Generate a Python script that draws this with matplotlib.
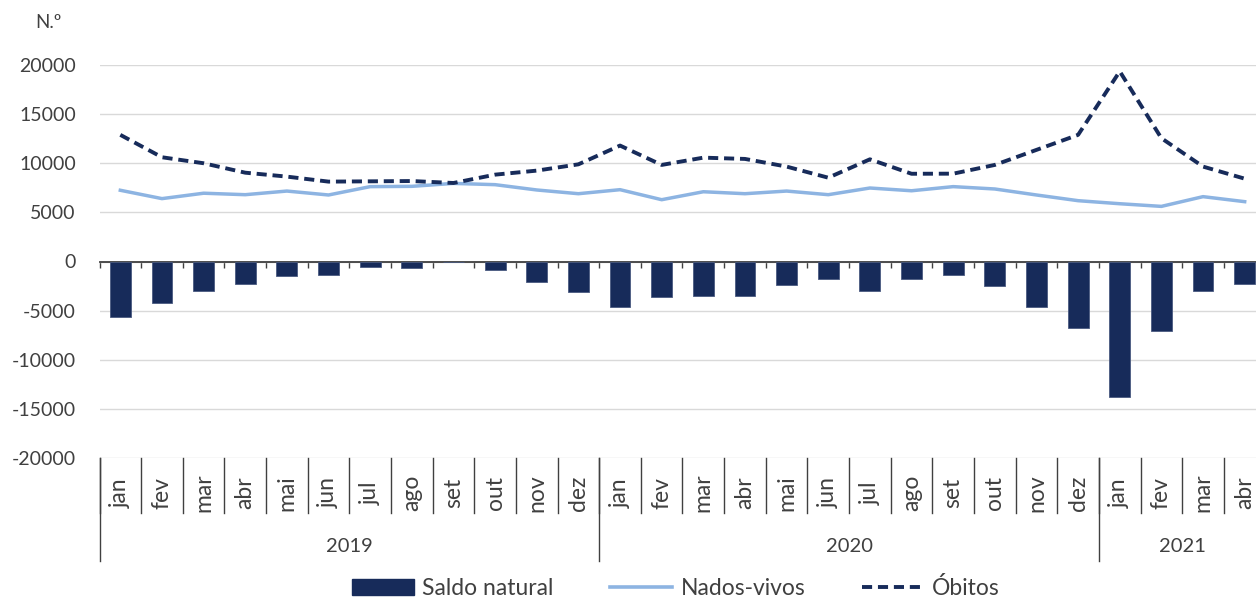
import matplotlib.pyplot as plt
import matplotlib.transforms as mtransforms
from matplotlib.patches import Patch
from matplotlib.lines import Line2D
import numpy as np

plt.rcParams['font.family'] = ['Lato', 'DejaVu Sans']
plt.rcParams['axes.unicode_minus'] = False

months = ['jan', 'fev', 'mar', 'abr', 'mai', 'jun', 'jul', 'ago', 'set', 'out', 'nov', 'dez',
          'jan', 'fev', 'mar', 'abr', 'mai', 'jun', 'jul', 'ago', 'set', 'out', 'nov', 'dez',
          'jan', 'fev', 'mar', 'abr']
years = ['2019', '2020', '2021']
year_len = [12, 12, 4]

saldo = [-5650, -4250, -3050, -2250, -1500, -1400, -600, -650, -50, -900, -2100, -3100,
         -4600, -3600, -3500, -3550, -2400, -1800, -3000, -1750, -1400, -2500, -4650, -6750,
         -13750, -7050, -3050, -2300]
nados = [7250, 6400, 6950, 6800, 7170, 6770, 7620, 7650, 7950, 7820, 7280, 6900,
         7310, 6290, 7100, 6900, 7170, 6800, 7480, 7200, 7620, 7380, 6770, 6190,
         5880, 5610, 6600, 6090]
obitos = [12890, 10610, 10000, 9040, 8640, 8130, 8160, 8190, 7990, 8840, 9250, 9890,
          11800, 9830, 10570, 10440, 9660, 8530, 10400, 8930, 8940, 9830, 11360, 12890,
          19350, 12550, 9660, 8430]

navy = '#172B5A'
light = '#8DB4E2'
txt = '#404040'
dash = (0, (2.6, 1.5))

fig = plt.figure(figsize=(12.56, 6), dpi=100)
ax = fig.add_axes([99.5 / 1256, 142 / 600, 1166 / 1256, 393 / 600])

x = np.arange(len(months))
ax.bar(x, saldo, width=0.5, color=navy, edgecolor='#4a5a80', linewidth=0.6, zorder=3)
ax.plot(x, nados, color=light, lw=2.5, zorder=4)
ax.plot(x, obitos, color=navy, lw=2.8, linestyle=dash, zorder=4)

ax.set_xlim(-0.5, len(months) - 0.5)
ax.set_ylim(-20000, 20000)
ax.set_yticks(np.arange(-20000, 20001, 5000))
ax.yaxis.grid(True, color='#D9D9D9', lw=1)
ax.set_axisbelow(True)
ax.tick_params(axis='y', length=0, pad=17, labelsize=14, labelcolor=txt)

for s in ['top', 'right', 'left']:
    ax.spines[s].set_visible(False)
ax.spines['bottom'].set_position(('data', 0))
ax.spines['bottom'].set_color(txt)
ax.spines['bottom'].set_linewidth(1.3)
ax.set_xticks(np.arange(-0.5, len(months), 1))
ax.tick_params(axis='x', direction='out', length=4, width=1, color=txt, labelbottom=False)

trans = mtransforms.blended_transform_factory(ax.transData, ax.transAxes)
h = 393.0
for i, m in enumerate(months):
    ax.text(i, -35 / h, m, rotation=90, ha='center', va='center', fontsize=16.5,
            color=txt, transform=trans)
for i in range(len(months) + 1):
    ax.plot([i - 0.5, i - 0.5], [0, -55 / h], color=txt, lw=1, transform=trans, clip_on=False)

start = 0
for y, n in zip(years, year_len):
    ax.plot([start - 0.5, start - 0.5], [0, -103 / h], color=txt, lw=1, transform=trans, clip_on=False)
    ax.text(start + n / 2 - 0.5, -89 / h, y, ha='center', va='center', fontsize=14.5,
            color=txt, transform=trans)
    start += n
ax.plot([start - 0.5, start - 0.5], [0, -103 / h], color=txt, lw=1, transform=trans, clip_on=False)

fig.text(35 / 1256, 1 - 22 / 600, 'N.º', fontsize=13.5, color=txt, va='center')

handles = [Patch(facecolor=navy, edgecolor=navy),
           Line2D([], [], color=light, lw=2.6),
           Line2D([], [], color=navy, lw=2.8, linestyle=dash)]
fig.legend(handles, ['Saldo natural', 'Nados-vivos', 'Óbitos'], loc='center',
           bbox_to_anchor=(676 / 1256, 12 / 600), ncol=3, frameon=False, fontsize=16.5,
           handlelength=2.7, handleheight=0.7, columnspacing=2.5, handletextpad=0.35,
           labelcolor=txt)

fig.savefig('out.png', dpi=100)
